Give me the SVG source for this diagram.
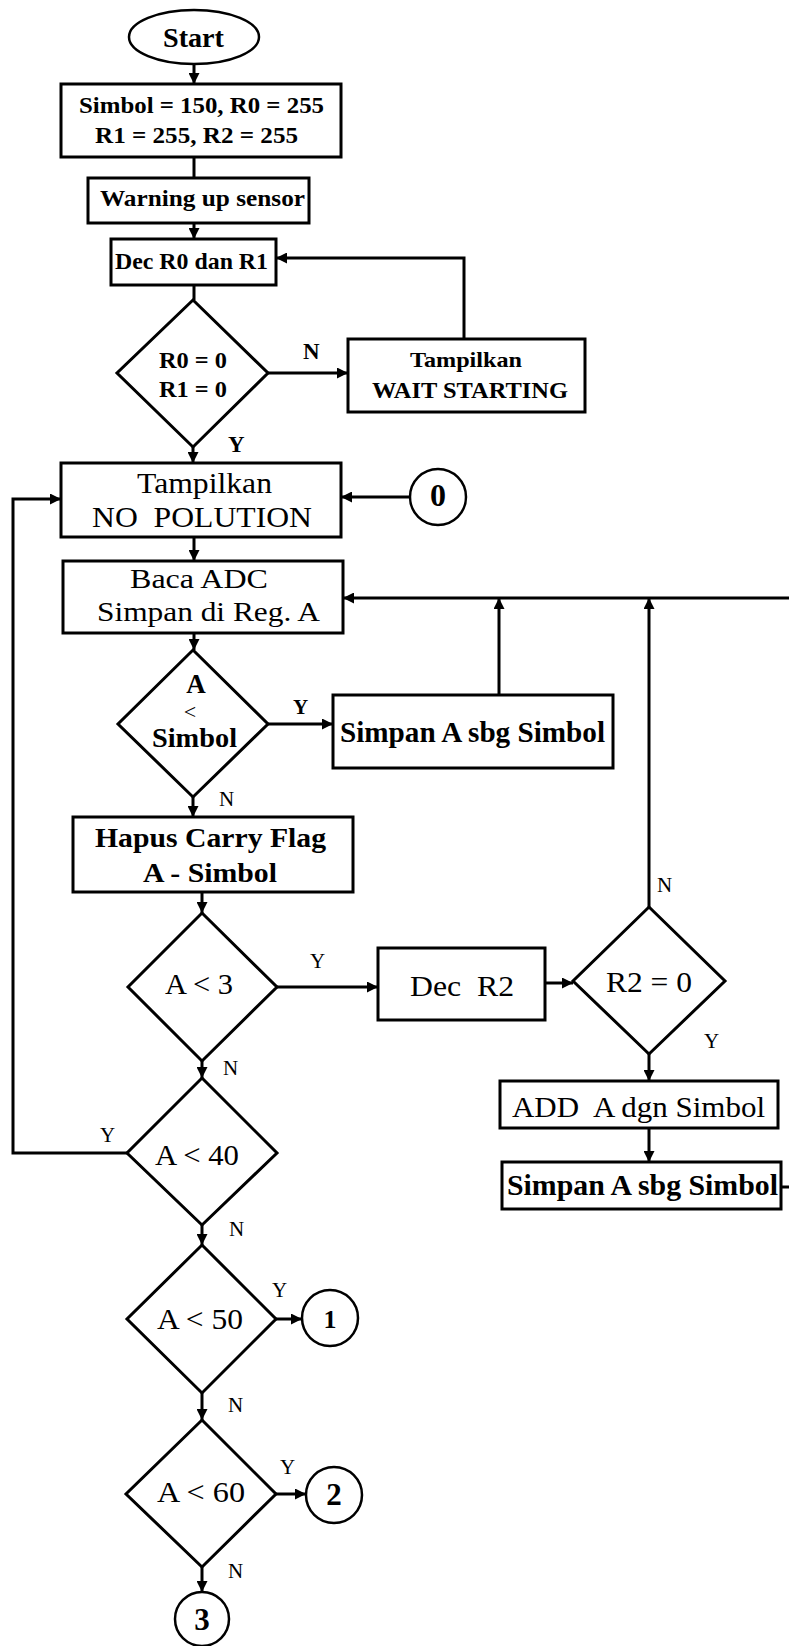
<svg xmlns="http://www.w3.org/2000/svg" width="789" height="1646" viewBox="0 0 789 1646">
<style>
.bx{fill:#fff;stroke:#000;stroke-width:3}
.cc{fill:#fff;stroke:#000;stroke-width:2.5}
.ln{fill:none;stroke:#000;stroke-width:3}
.ar{fill:none;stroke:#000;stroke-width:3;marker-end:url(#ah)}
text{font-family:"Liberation Serif","Times New Roman",serif;fill:#000}
.b{font-weight:bold}
.lb{font-size:21px}
</style>
<defs>
<marker id="ah" viewBox="0 0 10 10" refX="10" refY="5" markerWidth="11" markerHeight="11" markerUnits="userSpaceOnUse" orient="auto"><path d="M0,0 L10,5 L0,10 z" fill="#000"/></marker>
</defs>
<rect width="789" height="1646" fill="#fff"/>
<g id="connectors">
<path class="ar" d="M194,65 V84"/>
<path class="ln" d="M194,157 V178"/>
<path class="ar" d="M194,223 V239"/>
<path class="ln" d="M194,285 V300"/>
<path class="ar" d="M268,373 H348"/>
<path class="ar" d="M464,339 V258 H276"/>
<path class="ar" d="M193,447 V463"/>
<path class="ar" d="M410,497 H341"/>
<path class="ar" d="M127,1153 H13 V499 H61"/>
<path class="ar" d="M194,537 V561"/>
<path class="ar" d="M789,598 H343"/>
<path class="ar" d="M499,695 V598"/>
<path class="ar" d="M649,907 V598"/>
<path class="ar" d="M194,633 V650"/>
<path class="ar" d="M268,724 H333"/>
<path class="ar" d="M193,797 V817"/>
<path class="ar" d="M202,892 V913"/>
<path class="ar" d="M277,987 H378"/>
<path class="ar" d="M545,983 H573"/>
<path class="ar" d="M649,1054 V1081"/>
<path class="ar" d="M649,1128 V1162"/>
<path class="ln" d="M781,1187 H789"/>
<path class="ar" d="M202,1061 V1078"/>
<path class="ar" d="M202,1225 V1245"/>
<path class="ar" d="M276,1319 H302"/>
<path class="ar" d="M202,1393 V1420"/>
<path class="ar" d="M276,1494 H306"/>
<path class="ar" d="M202,1567 V1592"/>
<text class="b" x="303" y="359" font-size="23">N</text>
<text class="b" x="228" y="452" font-size="23">Y</text>
<text class="lb b" x="293" y="714">Y</text>
<text class="lb" x="219" y="806">N</text>
<text class="lb" x="310" y="968">Y</text>
<text class="lb" x="657" y="892">N</text>
<text class="lb" x="704" y="1048">Y</text>
<text class="lb" x="223" y="1075">N</text>
<text class="lb" x="100" y="1142">Y</text>
<text class="lb" x="229" y="1236">N</text>
<text class="lb" x="272" y="1297">Y</text>
<text class="lb" x="228" y="1412">N</text>
<text class="lb" x="280" y="1474">Y</text>
<text class="lb" x="228" y="1578">N</text>
</g>
<g id="start">
<ellipse class="cc" cx="194" cy="37" rx="65" ry="27"/>
<text class="b" x="163" y="47" font-size="27" textLength="61" lengthAdjust="spacingAndGlyphs">Start</text>
</g>
<g id="init">
<rect class="bx" x="61" y="84" width="280" height="73"/>
<text class="b" x="79" y="113" font-size="23" textLength="245" lengthAdjust="spacingAndGlyphs">Simbol = 150, R0 = 255</text>
<text class="b" x="95" y="143" font-size="23" textLength="203" lengthAdjust="spacingAndGlyphs">R1 = 255, R2 = 255</text>
</g>
<g id="warmup">
<rect class="bx" x="88" y="178" width="221" height="45"/>
<text class="b" x="100" y="206" font-size="23" textLength="205" lengthAdjust="spacingAndGlyphs">Warning up sensor</text>
</g>
<g id="decr0r1">
<rect class="bx" x="111" y="239" width="165" height="46"/>
<text class="b" x="115" y="269" font-size="23" textLength="153" lengthAdjust="spacingAndGlyphs">Dec R0 dan R1</text>
</g>
<g id="r0r1zero">
<polygon class="bx" points="193,300 268,373 193,447 117,373"/>
<text class="b" x="159" y="368" font-size="24" textLength="68" lengthAdjust="spacingAndGlyphs">R0 = 0</text>
<text class="b" x="159" y="397" font-size="24" textLength="68" lengthAdjust="spacingAndGlyphs">R1 = 0</text>
</g>
<g id="waitstarting">
<rect class="bx" x="348" y="339" width="237" height="73"/>
<text class="b" x="410" y="367" font-size="22" textLength="112" lengthAdjust="spacingAndGlyphs">Tampilkan</text>
<text class="b" x="372" y="398" font-size="23" textLength="196" lengthAdjust="spacingAndGlyphs">WAIT STARTING</text>
</g>
<g id="nopolution">
<rect class="bx" x="61" y="463" width="280" height="74"/>
<text x="137" y="493" font-size="29" textLength="135" lengthAdjust="spacingAndGlyphs">Tampilkan</text>
<text x="92" y="527" font-size="29" textLength="220" lengthAdjust="spacingAndGlyphs" xml:space="preserve">NO  POLUTION</text>
</g>
<g id="c0">
<circle class="cc" cx="438" cy="497" r="28"/>
<text class="b" x="438" y="506" font-size="32" text-anchor="middle">0</text>
</g>
<g id="bacaadc">
<rect class="bx" x="63" y="561" width="280" height="72"/>
<text x="130" y="588" font-size="28" textLength="138" lengthAdjust="spacingAndGlyphs">Baca ADC</text>
<text x="97" y="621" font-size="28" textLength="223" lengthAdjust="spacingAndGlyphs">Simpan di Reg. A</text>
</g>
<g id="altsimbol">
<polygon class="bx" points="193,650 268,724 193,797 118,724"/>
<text class="b" x="196" y="693" font-size="27" text-anchor="middle">A</text>
<text x="190" y="719" font-size="22" text-anchor="middle">&lt;</text>
<text class="b" x="152" y="747" font-size="28" textLength="85" lengthAdjust="spacingAndGlyphs">Simbol</text>
</g>
<g id="simpan1">
<rect class="bx" x="333" y="695" width="280" height="73"/>
<text class="b" x="340" y="742" font-size="29" textLength="265" lengthAdjust="spacingAndGlyphs">Simpan A sbg Simbol</text>
</g>
<g id="hapus">
<rect class="bx" x="73" y="817" width="280" height="75"/>
<text class="b" x="95" y="847" font-size="28" textLength="231" lengthAdjust="spacingAndGlyphs">Hapus Carry Flag</text>
<text class="b" x="143" y="882" font-size="28" textLength="134" lengthAdjust="spacingAndGlyphs">A - Simbol</text>
</g>
<g id="alt3">
<polygon class="bx" points="202,913 277,987 202,1061 128,987"/>
<text x="165" y="994" font-size="29" textLength="68" lengthAdjust="spacingAndGlyphs">A &lt; 3</text>
</g>
<g id="decr2">
<rect class="bx" x="378" y="948" width="167" height="72"/>
<text x="410" y="996" font-size="29" textLength="104" lengthAdjust="spacingAndGlyphs" xml:space="preserve">Dec  R2</text>
</g>
<g id="r2zero">
<polygon class="bx" points="649,907 725,981 649,1054 573,981"/>
<text x="606" y="992" font-size="29" textLength="86" lengthAdjust="spacingAndGlyphs">R2 = 0</text>
</g>
<g id="add">
<rect class="bx" x="500" y="1081" width="278" height="47"/>
<text x="512" y="1117" font-size="29" textLength="253" lengthAdjust="spacingAndGlyphs" xml:space="preserve">ADD  A dgn Simbol</text>
</g>
<g id="simpan2">
<rect class="bx" x="502" y="1162" width="279" height="47"/>
<text class="b" x="507" y="1195" font-size="29" textLength="271" lengthAdjust="spacingAndGlyphs">Simpan A sbg Simbol</text>
</g>
<g id="alt40">
<polygon class="bx" points="202,1078 277,1153 202,1225 127,1153"/>
<text x="155" y="1165" font-size="29" textLength="84" lengthAdjust="spacingAndGlyphs">A &lt; 40</text>
</g>
<g id="alt50">
<polygon class="bx" points="202,1245 276,1319 202,1393 127,1319"/>
<text x="157" y="1329" font-size="29" textLength="86" lengthAdjust="spacingAndGlyphs">A &lt; 50</text>
</g>
<g id="c1">
<circle class="cc" cx="330" cy="1318" r="28"/>
<text class="b" x="330" y="1328" font-size="26" text-anchor="middle">1</text>
</g>
<g id="alt60">
<polygon class="bx" points="202,1420 276,1494 202,1567 126,1494"/>
<text x="157" y="1502" font-size="29" textLength="88" lengthAdjust="spacingAndGlyphs">A &lt; 60</text>
</g>
<g id="c2">
<circle class="cc" cx="334" cy="1495" r="28"/>
<text class="b" x="334" y="1505" font-size="31" text-anchor="middle">2</text>
</g>
<g id="c3">
<circle class="cc" cx="202" cy="1619" r="27"/>
<text class="b" x="202" y="1630" font-size="31" text-anchor="middle">3</text>
</g>
</svg>
